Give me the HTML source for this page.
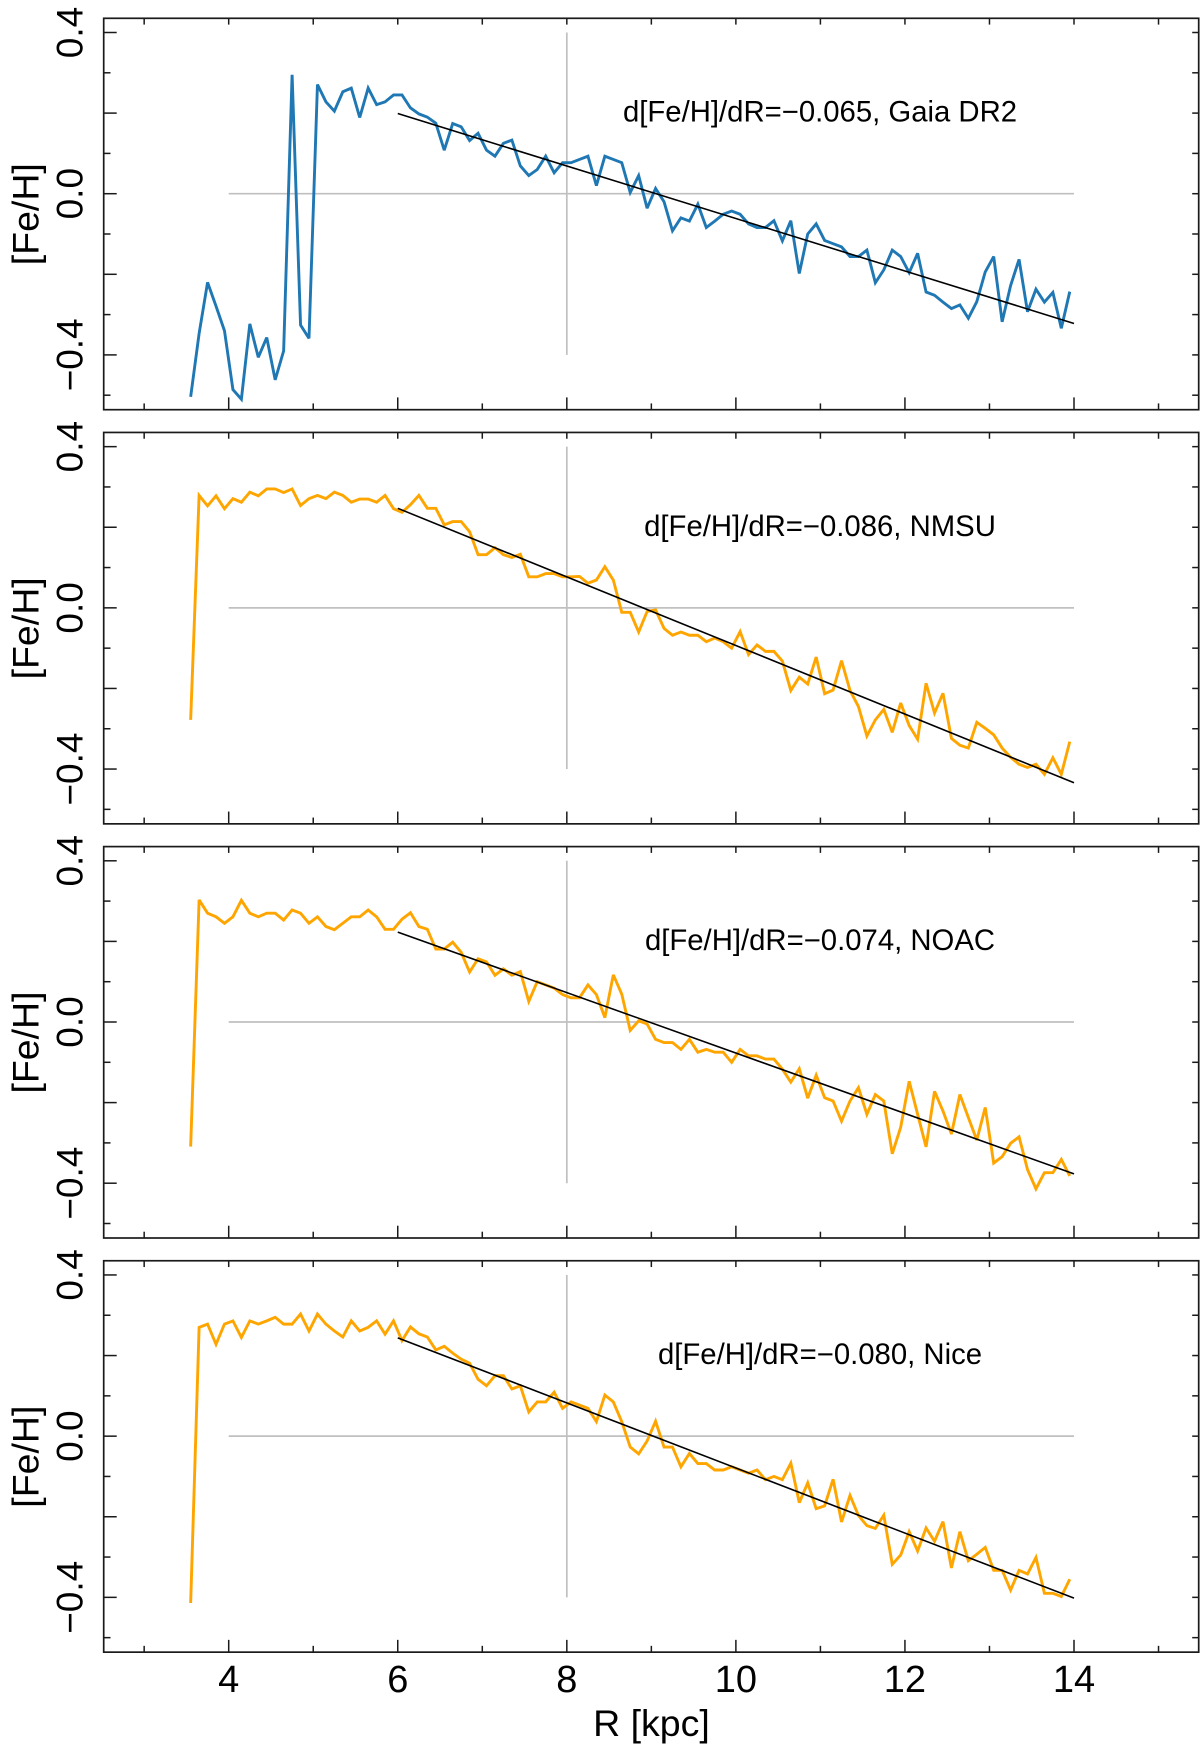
<!DOCTYPE html>
<html lang="en">
<head>
<meta charset="utf-8">
<title>Metallicity gradient panels</title>
<style>
html,body{margin:0;padding:0;background:#fff;}
body{width:1200px;height:1752px;overflow:hidden;}
svg{display:block;font-family:"Liberation Sans",sans-serif;}
</style>
</head>
<body>
<svg id="chart" xmlns="http://www.w3.org/2000/svg" width="1200" height="1752" viewBox="0 0 1200 1752"></svg>
<script>
const radiusStart = 3.55;
const radiusStep = 0.1;
const panelNames = ["gaia-dr2", "nmsu", "noac", "nice"];
const annotations = [
  "d[Fe/H]/dR=\u22120.065, Gaia DR2",
  "d[Fe/H]/dR=\u22120.086, NMSU",
  "d[Fe/H]/dR=\u22120.074, NOAC",
  "d[Fe/H]/dR=\u22120.080, Nice"
];
const lineColors = ["#1f77b4", "#ffa500", "#ffa500", "#ffa500"];
const seriesGaia = [-0.504,-0.347,-0.220,-0.279,-0.340,-0.486,-0.510,-0.323,-0.406,-0.357,-0.462,-0.390,0.295,-0.326,-0.359,0.271,0.228,0.205,0.253,0.262,0.189,0.262,0.221,0.228,0.245,0.245,0.213,0.198,0.190,0.175,0.108,0.174,0.166,0.132,0.150,0.108,0.093,0.125,0.133,0.069,0.045,0.060,0.093,0.052,0.077,0.077,0.085,0.093,0.020,0.093,0.085,0.077,0.003,0.045,-0.036,0.013,-0.020,-0.092,-0.060,-0.068,-0.026,-0.084,-0.068,-0.051,-0.043,-0.051,-0.075,-0.084,-0.084,-0.067,-0.117,-0.067,-0.198,-0.100,-0.075,-0.116,-0.124,-0.132,-0.156,-0.156,-0.140,-0.221,-0.189,-0.140,-0.156,-0.196,-0.148,-0.244,-0.252,-0.269,-0.285,-0.276,-0.309,-0.268,-0.194,-0.156,-0.318,-0.228,-0.163,-0.293,-0.237,-0.269,-0.245,-0.334,-0.243];
const seriesNmsu = [-0.278,0.279,0.253,0.278,0.246,0.271,0.262,0.287,0.278,0.295,0.295,0.286,0.295,0.254,0.271,0.279,0.271,0.287,0.279,0.262,0.270,0.270,0.262,0.279,0.246,0.237,0.256,0.279,0.247,0.247,0.206,0.214,0.214,0.189,0.132,0.132,0.149,0.132,0.125,0.133,0.077,0.077,0.085,0.085,0.077,0.077,0.078,0.061,0.069,0.102,0.069,-0.011,-0.011,-0.060,-0.009,-0.005,-0.051,-0.068,-0.060,-0.068,-0.068,-0.084,-0.075,-0.084,-0.100,-0.059,-0.116,-0.092,-0.108,-0.108,-0.132,-0.205,-0.172,-0.189,-0.122,-0.213,-0.204,-0.131,-0.205,-0.245,-0.318,-0.278,-0.252,-0.309,-0.236,-0.292,-0.326,-0.187,-0.261,-0.212,-0.324,-0.341,-0.348,-0.284,-0.299,-0.315,-0.348,-0.371,-0.388,-0.396,-0.388,-0.413,-0.372,-0.413,-0.332];
const seriesNoac = [-0.309,0.303,0.270,0.261,0.245,0.261,0.302,0.270,0.261,0.270,0.270,0.253,0.278,0.270,0.245,0.261,0.237,0.229,0.245,0.261,0.261,0.278,0.261,0.230,0.230,0.255,0.271,0.237,0.230,0.181,0.181,0.198,0.173,0.124,0.157,0.149,0.116,0.132,0.116,0.125,0.051,0.100,0.092,0.084,0.068,0.060,0.060,0.092,0.068,0.011,0.117,0.069,-0.021,0.003,-0.005,-0.043,-0.051,-0.051,-0.068,-0.043,-0.075,-0.068,-0.075,-0.075,-0.100,-0.068,-0.084,-0.084,-0.092,-0.092,-0.117,-0.149,-0.116,-0.189,-0.132,-0.188,-0.196,-0.246,-0.196,-0.163,-0.229,-0.180,-0.196,-0.327,-0.261,-0.147,-0.229,-0.310,-0.172,-0.221,-0.278,-0.180,-0.237,-0.293,-0.212,-0.350,-0.334,-0.301,-0.285,-0.366,-0.414,-0.374,-0.374,-0.341,-0.382];
const seriesNice = [-0.414,0.270,0.278,0.228,0.278,0.286,0.245,0.286,0.278,0.286,0.295,0.278,0.278,0.303,0.261,0.303,0.278,0.261,0.246,0.286,0.261,0.270,0.286,0.253,0.286,0.237,0.271,0.254,0.246,0.214,0.223,0.206,0.191,0.181,0.141,0.125,0.150,0.150,0.117,0.125,0.060,0.085,0.085,0.109,0.069,0.085,0.077,0.069,0.036,0.102,0.085,0.036,-0.027,-0.044,-0.012,0.037,-0.027,-0.027,-0.076,-0.043,-0.068,-0.068,-0.084,-0.084,-0.076,-0.084,-0.092,-0.084,-0.108,-0.100,-0.108,-0.067,-0.165,-0.116,-0.180,-0.173,-0.107,-0.213,-0.147,-0.197,-0.222,-0.229,-0.196,-0.318,-0.295,-0.237,-0.285,-0.228,-0.261,-0.212,-0.327,-0.237,-0.309,-0.293,-0.276,-0.333,-0.333,-0.382,-0.333,-0.342,-0.301,-0.390,-0.390,-0.398,-0.355];
const fitStart = [0.199, 0.247, 0.223, 0.244];
const fitEnd = [-0.322, -0.434, -0.377, -0.402];
const fitRange = [6, 14];
const refLineY = [0];
const refLineX = [8];
const refSpanX = [4, 14];
const refSpanY = [-0.4, 0.4];
const xMinorTicks = [3, 5, 7, 9, 11, 13, 15];
const xMajorTicks = [4, 6, 8, 10, 12, 14];
const xTickLabels = ["4", "6", "8", "10", "12", "14"];
const yMajorTicks = [-0.4, -0.2, 0, 0.2, 0.4];
const yMinorTicks = [-0.5, -0.3, -0.1, 0.1, 0.3];
const yLabelTicks = [0.4, 0, -0.4];
const yTickLabels = ["0.4", "0.0", "\u22120.4"];
const allSeries = [seriesGaia, seriesNmsu, seriesNoac, seriesNice];

const NS = "http://www.w3.org/2000/svg";
const svg = document.getElementById("chart");
const FRAME_L = 103.7, FRAME_R = 1198.7, PANEL_GAP = 414.15;
const INK = "#1a1a1a";

function xScale(v) { return 228.7 + (v - 4) * 84.53; }
function yScale(v, k) { return 193.7 + PANEL_GAP * k - v * 403; }
function frameTop(k) { return 18.3 + PANEL_GAP * k; }
function frameBottom(k) { return 409.7 + PANEL_GAP * k; }

function make(tag, attrs, parent, text) {
  const el = document.createElementNS(NS, tag);
  for (const key in attrs) el.setAttribute(key, attrs[key]);
  if (text !== undefined) el.textContent = text;
  parent.appendChild(el);
  return el;
}
function seg(x1, y1, x2, y2, color, width, parent) {
  return make("line", { x1: x1, y1: y1, x2: x2, y2: y2, stroke: color, "stroke-width": width }, parent);
}

for (let k = 0; k < allSeries.length; k++) {
  const top = frameTop(k), bottom = frameBottom(k);
  const panel = make("g", {}, svg);
  
  

  const hRef = seg(xScale(refSpanX[0]), yScale(refLineY[0], k), xScale(refSpanX[1]), yScale(refLineY[0], k), "#c0c0c0", 1.7, panel);
  
  
  const vRef = seg(xScale(refLineX[0]), yScale(refSpanY[1], k), xScale(refLineX[0]), yScale(refSpanY[0], k), "#c0c0c0", 1.7, panel);
  
  

  const pts = allSeries[k].map(function (v, i) {
    return xScale(radiusStart + radiusStep * i).toFixed(2) + "," + yScale(v, k).toFixed(2);
  }).join(" ");
  const series = make("polyline", { points: pts, fill: "none", stroke: lineColors[k], "stroke-width": 2.9, "stroke-linejoin": "miter", "stroke-miterlimit": 3 }, panel);
  
  

  const fit = seg(xScale(fitRange[0]), yScale(fitStart[k], k), xScale(fitRange[1]), yScale(fitEnd[k], k), "#000", 1.6, panel);
  
  

  const ticks = make("g", {}, panel);
  
  
  xMajorTicks.forEach(function (v) {
    seg(xScale(v), bottom, xScale(v), bottom - 12.3, INK, 1.5, ticks);
    seg(xScale(v), top, xScale(v), top + 6.3, INK, 1.5, ticks);
  });
  xMinorTicks.forEach(function (v) {
    seg(xScale(v), bottom, xScale(v), bottom - 6.3, INK, 1.5, ticks);
    seg(xScale(v), top, xScale(v), top + 6.3, INK, 1.5, ticks);
  });
  yMajorTicks.forEach(function (v) {
    seg(FRAME_L, yScale(v, k), FRAME_L + 13, yScale(v, k), INK, 1.5, ticks);
    seg(FRAME_R, yScale(v, k), FRAME_R - 6.5, yScale(v, k), INK, 1.5, ticks);
  });
  yMinorTicks.forEach(function (v) {
    seg(FRAME_L, yScale(v, k), FRAME_L + 6.8, yScale(v, k), INK, 1.5, ticks);
    seg(FRAME_R, yScale(v, k), FRAME_R - 6.5, yScale(v, k), INK, 1.5, ticks);
  });

  const frame = make("rect", { x: FRAME_L, y: top, width: FRAME_R - FRAME_L, height: bottom - top, fill: "none", stroke: INK, "stroke-width": 1.7 }, panel);
  
  

  yLabelTicks.forEach(function (v, i) {
    const yy = yScale(v, k);
    const lab = make("text", { transform: "translate(82.6," + yy.toFixed(2) + ") rotate(-90)", "text-anchor": "middle", "font-size": 37, fill: "#000" }, panel, yTickLabels[i]);
    
    
  });

  const yTitle = make("text", { transform: "translate(38.5," + (yScale(0, k) + 20.5).toFixed(2) + ") rotate(-90)", "text-anchor": "middle", "font-size": 37.5, fill: "#000" }, panel, "[Fe/H]");
  
  

  const note = make("text", { x: 820, y: (121.7 + 414.1 * k).toFixed(2), "text-anchor": "middle", "font-size": 29.3, fill: "#000" }, panel, annotations[k]);
  
  
}

xMajorTicks.forEach(function (v, i) {
  const lab = make("text", { x: xScale(v), y: 1691.8, "text-anchor": "middle", "font-size": 38, fill: "#000" }, svg, xTickLabels[i]);
  
  
});

const xTitle = make("text", { x: 651.5, y: 1736, "text-anchor": "middle", "font-size": 37.5, fill: "#000" }, svg, "R [kpc]");


</script>
</body>
</html>
